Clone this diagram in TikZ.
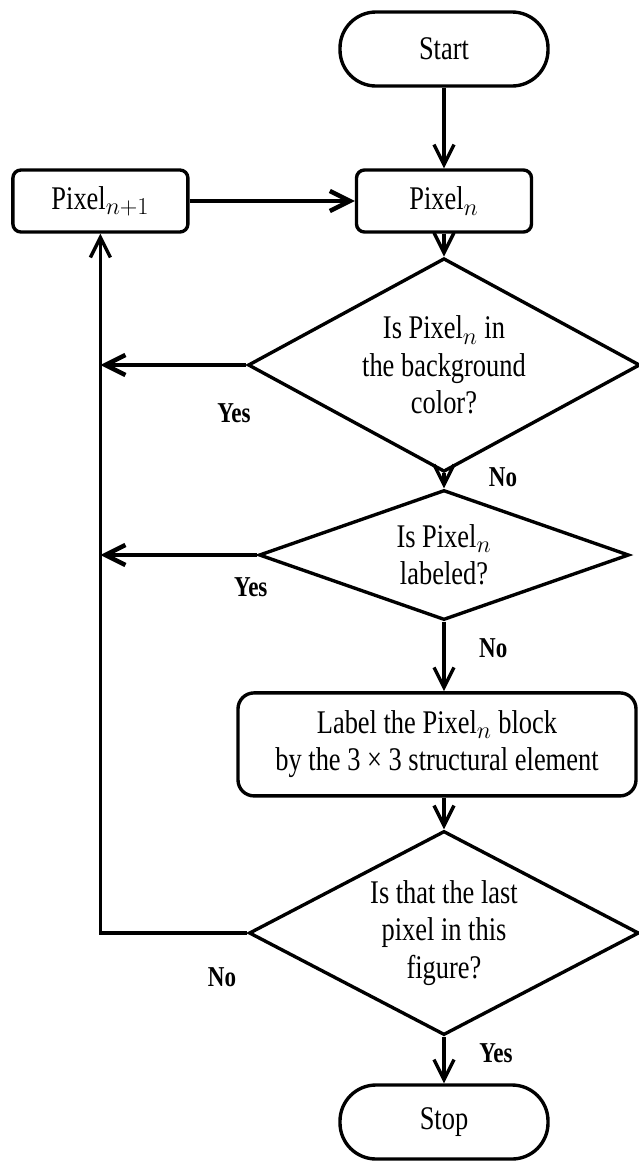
\documentclass[tikz,border=0pt]{standalone}
\usepackage{fontspec}
\setmainfont{Liberation Serif}[FakeStretch=0.8]
\usepackage{tikz}
\usetikzlibrary{shapes.geometric}
\usetikzlibrary{arrows.meta}

\begin{document}
\begin{tikzpicture}[
  every node/.style={font=\fontsize{23.5pt}{26.5pt}\selectfont},
  terminal/.style={rectangle, draw=black, line width=2.4pt, rounded corners=0.9cm, minimum width=5.2cm, minimum height=1.85cm},
  process/.style={rectangle, draw=black, line width=2.4pt, rounded corners=0.2cm, minimum width=4.375cm, minimum height=1.55cm},
  decision/.style={diamond, draw=black, line width=2.4pt, inner sep=-0.3cm, align=center},
  answer/.style={font=\fontsize{20.5pt}{22pt}\selectfont\bfseries}]

\useasboundingbox (0,0) rectangle (15.975,-29.15);

%%\draw[step=1cm, gray, very thin] (0,0) grid (16,-29);

\node at (11.1,-1.225) [terminal] (start) {Start};
\node at (11.1,-5.025) [process] (pixn) {Pixel$_n$};
\node at (2.51,-5.025) [process] (pixnext) {Pixel$_{n+1}$};

\node at (11.1,-9.125) [decision, minimum width=9.8cm, minimum height=3.95cm] (bgcol) {Is Pixel$_n$ in\\the background\\color?};
\node at (11.1,-13.875) [decision, minimum width=9.25cm, minimum height=3.25cm] (islab) {Is Pixel$_n$\\labeled?};

\node at (10.925,-18.61) [process, rounded corners=0.4cm, minimum width=9.95cm, minimum height=2.575cm, align=center] (labelblk) {Label the Pixel$_n$ block\\by the 3 × 3 structural\ element};

\node at (11.1,-23.325) [decision, minimum width=9.75cm, minimum height=4.6cm] (lastpx) {Is that the last\\pixel in this\\figure?};
\node at (11.1,-28.05) [terminal] (stop) {Stop};

\node at (5.85,-10.325) [answer] (yesbg) {Yes};
\node at (12.575,-11.925) [answer] (nobg) {No};
\node at (6.27,-14.675) [answer] (yeslab) {Yes};
\node at (12.33,-16.2) [answer] (nolab) {No};
\node at (5.55,-24.42) [answer] (nolast) {No};
\node at (12.4,-26.33) [answer] (yeslast) {Yes};


\begin{scope}[>={Straight Barb[length=0.5cm,width=0.5cm]}, line width=2.4pt]
	\draw [->] (start) -- (pixn);
	\draw [->, line width=3.2pt] (pixnext) -- (pixn);
	\draw [->] (pixn) -- (bgcol);
	\draw [->] (bgcol) -- (islab);
	\draw [->] (islab.south) -- (islab.south |- labelblk.north);
	\draw [->] (lastpx.north |- labelblk.south) -- (lastpx.north);
	\draw [->] (lastpx) -- (stop);
	\draw [->, line width=3.2pt] (bgcol.west) -- (bgcol.west -| pixnext.south);
	\draw [->, line width=3.2pt] (islab.west) -- (islab.west -| pixnext.south);
	\draw [->] (lastpx.west) -| (pixnext.south);
\end{scope}


\end{tikzpicture}
\end{document}
